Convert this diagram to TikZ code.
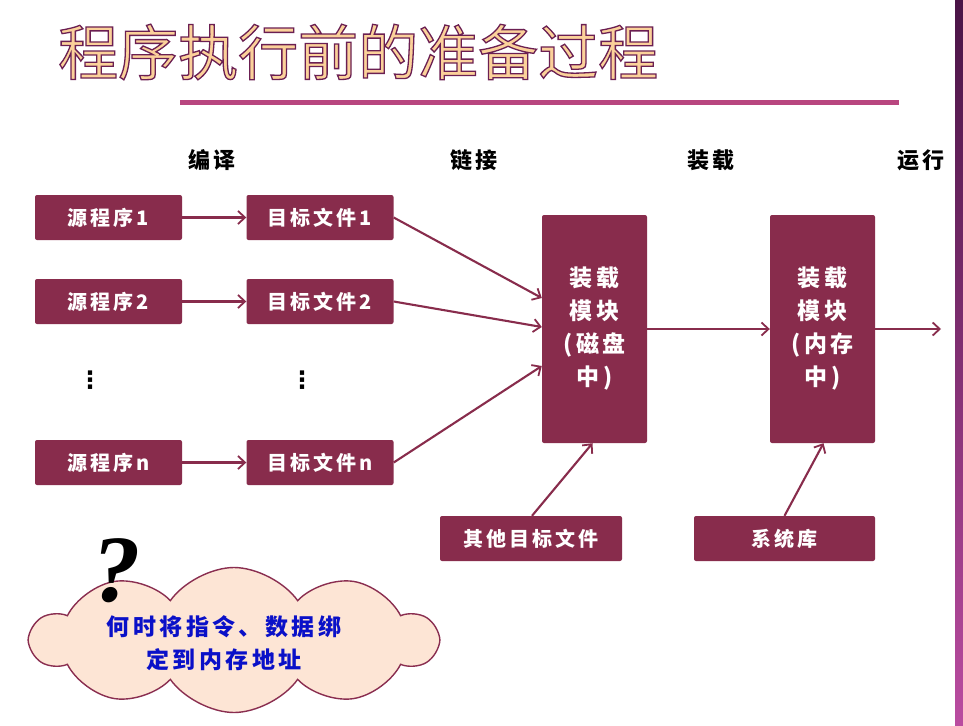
\documentclass[tikz,border=0pt]{standalone}
\usepackage{fontspec}
\newfontfamily\cjk{Noto Sans CJK SC}
\newfontfamily\cjks[LetterSpace=15]{Noto Sans CJK SC}
\newfontfamily\cjkh[LetterSpace=12]{Noto Sans CJK SC}
\newfontfamily\dejavu{DejaVu Sans}
\newfontfamily\qfont[FakeSlant=0.15]{Liberation Serif}
\usetikzlibrary{arrows.meta,shapes.symbols}
\definecolor{boxc}{HTML}{882C4C}
\definecolor{barc}{HTML}{B8467F}
\definecolor{titlefill}{HTML}{FBD19A}
\definecolor{cloudfill}{HTML}{FDE5D5}
\definecolor{cloudline}{HTML}{8A2E50}
\definecolor{qblue}{HTML}{0A10C8}
\tikzset{
  boxn/.style={fill=boxc, rounded corners=2pt, text=white, font=\cjks\bfseries\fontsize{20}{24}\selectfont, inner sep=0pt, minimum height=45pt},
  bigbox/.style={fill=boxc, rounded corners=2pt, text=white, font=\cjks\bfseries\fontsize{23}{33}\selectfont, inner sep=0pt, minimum width=105pt, minimum height=228pt, align=center},
  head/.style={font=\cjkh\bfseries\fontsize{22}{26}\selectfont, text=black},
  arr/.style={draw=boxc, line width=2.1pt, -{Straight Barb[length=7pt,width=13pt,line width=1.8pt]}},
  dotsn/.style={font=\dejavu\bfseries\fontsize{24}{24}\selectfont, text=black, inner sep=0pt}
}
\begin{document}
\begin{tikzpicture}[x=1pt,y=-1pt]
\useasboundingbox (0,0) rectangle (963,725);
\fill[white] (0,0) rectangle (963,725);
% right edge bar
\shade[top color={rgb,255:red,74;green,20;blue,70}, bottom color={rgb,255:red,186;green,76;blue,160}] (955,0) rectangle (963,725);
% title
\node[anchor=west, inner sep=0pt] (title) at (58,52) {\cjk\fontsize{60}{62}\selectfont\color{titlefill}\special{pdf:literal direct 0.42 0.12 0.32 RG 1.3 w 2 Tr}程序执行前的准备过程\special{pdf:literal direct 0 Tr}};
\fill[barc] (180,100) rectangle (899,105);
% column headers
\node[head] (h1) at (212,160) {编译};
\node[head] (h2) at (474,160) {链接};
\node[head] (h3) at (711,160) {装载};
\node[head] (h4) at (921,160) {运行};
% boxes
\node[boxn, minimum width=147pt] (s1) at (108.5,217.5) {源程序1};
\node[boxn, minimum width=147pt] (o1) at (320,217.5) {目标文件1};
\node[boxn, minimum width=147pt] (s2) at (108.5,301.5) {源程序2};
\node[boxn, minimum width=147pt] (o2) at (320,301.5) {目标文件2};
\node[boxn, minimum width=147pt] (sn) at (108.5,462.5) {源程序n};
\node[boxn, minimum width=147pt] (on) at (320,462.5) {目标文件n};
\node[dotsn] (d1) at (90,380) {⋮};
\node[dotsn] (d2) at (302,380) {⋮};
\node[bigbox] (disk) at (594.5,329) {装载\\模块\\(磁盘\\中)};
\node[bigbox] (mem) at (822.5,329) {装载\\模块\\(内存\\中)};
\node[boxn, minimum width=182pt] (other) at (531,538.5) {其他目标文件};
\node[boxn, minimum width=181pt] (lib) at (784.5,538.5) {系统库};
\coordinate (run) at (941,329);
% arrows
\draw[arr] (s1) -- (o1);
\draw[arr] (s2) -- (o2);
\draw[arr] (sn) -- (on);
\draw[arr] (o1.east) -- ([yshift=31pt]disk.west);
\draw[arr] (o2.east) -- ([yshift=2pt]disk.west);
\draw[arr] (on.east) -- ([yshift=-37pt]disk.west);
\draw[arr] (disk) -- (mem);
\draw[arr] (mem) -- (run);
\draw[arr] ([xshift=1pt]other.north) -- ([xshift=-2pt]disk.south);
\draw[arr] (lib.north) -- ([xshift=1pt]mem.south);
% cloud
\node[cloud, cloud puffs=10, cloud puff arc=110, aspect=2.8, draw=cloudline, line width=1.4pt, fill=cloudfill, minimum width=405pt, minimum height=145pt, inner sep=0pt] (cl) at (234,640) {};
\node[font=\cjks\bfseries\fontsize{23}{33}\selectfont, text=qblue, align=center] (qt) at (224,643) {何时将指令、数据绑\\定到内存地址};
\node[font=\qfont\bfseries\fontsize{95}{95}\selectfont, text=black, inner sep=0pt] (qm) at (112,571) {?};
\end{tikzpicture}
\end{document}
